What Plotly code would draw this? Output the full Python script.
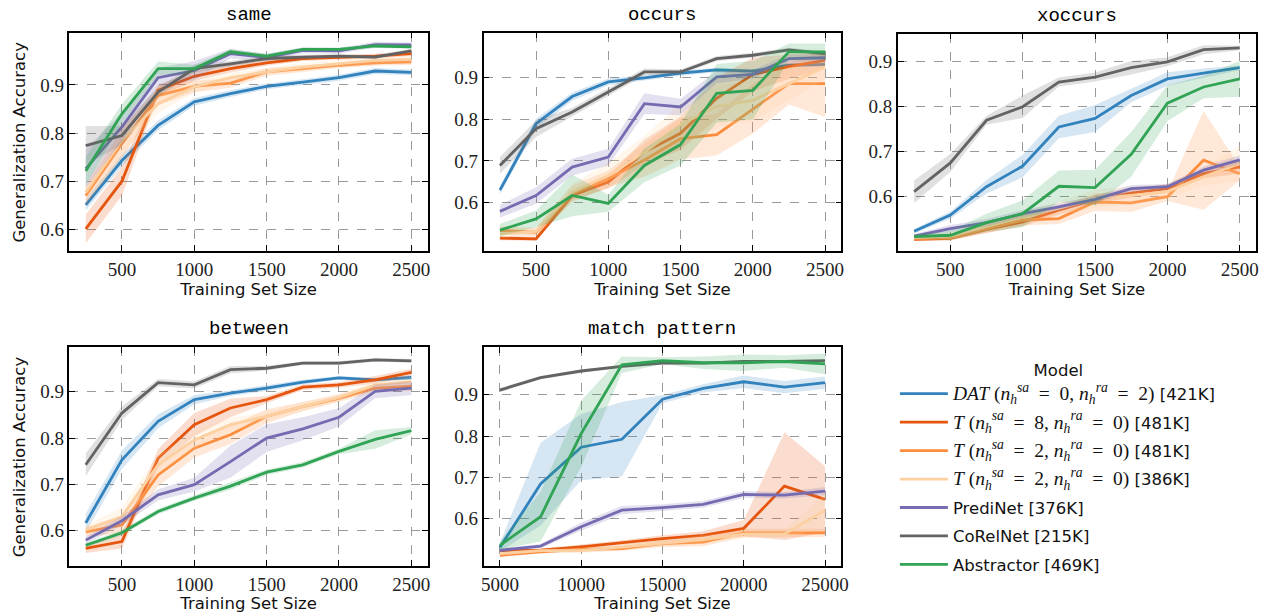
import plotly.graph_objects as go
from plotly.subplots import make_subplots

# ---------------- data ----------------
MODELS = [
    "DAT", "T8_481K", "T2_481K", "T2_386K", "PrediNet", "CoRelNet", "Abstractor",
]
_S = "<span style=\"font-family:'Liberation Serif';font-size:19.5px\">"
LABELS = [
    _S + "<i>DAT</i> (<i>n</i><sub><i>h</i></sub><sup><i>sa</i></sup>  =  0, <i>n</i><sub><i>h</i></sub><sup><i>ra</i></sup>  =  2)</span> [421K]",
    _S + "<i>T</i> (<i>n</i><sub><i>h</i></sub><sup><i>sa</i></sup>  =  8, <i>n</i><sub><i>h</i></sub><sup><i>ra</i></sup>  =  0)</span> [481K]",
    _S + "<i>T</i> (<i>n</i><sub><i>h</i></sub><sup><i>sa</i></sup>  =  2, <i>n</i><sub><i>h</i></sub><sup><i>ra</i></sup>  =  0)</span> [481K]",
    _S + "<i>T</i> (<i>n</i><sub><i>h</i></sub><sup><i>sa</i></sup>  =  2, <i>n</i><sub><i>h</i></sub><sup><i>ra</i></sup>  =  0)</span> [386K]",
    "PrediNet [376K]",
    "CoRelNet [215K]",
    "Abstractor [469K]",
]
COLORS = ["#3182bd", "#e6550d", "#fd8d3c", "#fdd0a2", "#756bb1", "#636363", "#31a354"]

TASKS = ["same", "occurs", "xoccurs", "between", "match pattern"]
X_TITLE = "Training Set Size"
Y_TITLE = "Generalization Accuracy"

X_SMALL = [250, 500, 750, 1000, 1250, 1500, 1750, 2000, 2250, 2500]
X_MATCH = [5000, 7500, 10000, 12500, 15000, 17500, 20000, 22500, 25000]
XTICKS_SMALL = [500, 1000, 1500, 2000, 2500]
XTICKS_MATCH = [5000, 10000, 15000, 20000, 25000]
YTICKS = [0.6, 0.7, 0.8, 0.9]

# means (order: DAT, T8, T2-481K, T2-386K, PrediNet, CoRelNet, Abstractor)
same_mean = [
    [0.651, 0.743, 0.816, 0.865, 0.882, 0.897, 0.906, 0.915, 0.929, 0.926],
    [0.601, 0.700, 0.889, 0.918, 0.934, 0.946, 0.955, 0.957, 0.960, 0.965],
    [0.670, 0.778, 0.878, 0.897, 0.904, 0.927, 0.934, 0.941, 0.946, 0.948],
    [0.677, 0.785, 0.861, 0.896, 0.915, 0.927, 0.937, 0.944, 0.951, 0.953],
    [0.726, 0.813, 0.915, 0.930, 0.965, 0.957, 0.972, 0.971, 0.984, 0.983],
    [0.774, 0.795, 0.885, 0.934, 0.944, 0.955, 0.958, 0.960, 0.958, 0.971],
    [0.721, 0.840, 0.934, 0.934, 0.969, 0.960, 0.974, 0.974, 0.981, 0.979],
]
same_err = [
    [0.012, 0.012, 0.010, 0.008, 0.007, 0.006, 0.006, 0.006, 0.006, 0.006],
    [0.030, 0.030, 0.012, 0.010, 0.008, 0.006, 0.005, 0.005, 0.005, 0.005],
    [0.020, 0.030, 0.020, 0.012, 0.010, 0.008, 0.007, 0.006, 0.006, 0.006],
    [0.020, 0.030, 0.020, 0.012, 0.010, 0.008, 0.008, 0.008, 0.008, 0.008],
    [0.040, 0.030, 0.020, 0.020, 0.010, 0.008, 0.006, 0.006, 0.006, 0.005],
    [0.040, 0.020, 0.010, 0.008, 0.006, 0.005, 0.005, 0.004, 0.004, 0.004],
    [0.030, 0.020, 0.015, 0.008, 0.005, 0.005, 0.004, 0.004, 0.004, 0.004],
]

occurs_mean = [
    [0.630, 0.789, 0.854, 0.889, 0.899, 0.910, 0.918, 0.915, 0.929, 0.931],
    [0.515, 0.513, 0.617, 0.649, 0.721, 0.766, 0.850, 0.907, 0.926, 0.941],
    [0.533, 0.529, 0.621, 0.657, 0.702, 0.753, 0.763, 0.825, 0.885, 0.885],
    [0.525, 0.531, 0.625, 0.665, 0.720, 0.787, 0.830, 0.845, 0.885, 0.925],
    [0.579, 0.617, 0.685, 0.709, 0.837, 0.829, 0.901, 0.907, 0.945, 0.947],
    [0.689, 0.777, 0.817, 0.865, 0.913, 0.913, 0.945, 0.953, 0.966, 0.957],
    [0.534, 0.561, 0.617, 0.598, 0.689, 0.739, 0.862, 0.869, 0.961, 0.961],
]
occurs_err = [
    [0.010, 0.012, 0.010, 0.008, 0.006, 0.006, 0.005, 0.005, 0.005, 0.005],
    [0.005, 0.005, 0.010, 0.015, 0.030, 0.040, 0.050, 0.040, 0.030, 0.020],
    [0.010, 0.010, 0.020, 0.020, 0.040, 0.050, 0.050, 0.060, 0.050, 0.080],
    [0.010, 0.010, 0.020, 0.030, 0.040, 0.050, 0.050, 0.050, 0.040, 0.030],
    [0.015, 0.020, 0.020, 0.020, 0.025, 0.020, 0.015, 0.010, 0.010, 0.010],
    [0.020, 0.020, 0.010, 0.010, 0.008, 0.006, 0.006, 0.006, 0.005, 0.005],
    [0.015, 0.020, 0.050, 0.020, 0.040, 0.050, 0.070, 0.070, 0.020, 0.020],
]

xoccurs_mean = [
    [0.522, 0.558, 0.621, 0.667, 0.754, 0.773, 0.824, 0.861, 0.874, 0.886],
    [0.504, 0.506, 0.526, 0.543, 0.569, 0.593, 0.607, 0.617, 0.650, 0.665],
    [0.506, 0.508, 0.528, 0.547, 0.550, 0.587, 0.585, 0.599, 0.680, 0.650],
    [0.508, 0.511, 0.533, 0.554, 0.573, 0.595, 0.602, 0.610, 0.643, 0.673],
    [0.511, 0.528, 0.541, 0.561, 0.576, 0.593, 0.617, 0.621, 0.658, 0.681],
    [0.610, 0.674, 0.769, 0.799, 0.854, 0.865, 0.886, 0.899, 0.926, 0.930],
    [0.510, 0.513, 0.541, 0.561, 0.622, 0.619, 0.693, 0.807, 0.843, 0.861],
]
xoccurs_err = [
    [0.005, 0.008, 0.015, 0.025, 0.025, 0.030, 0.015, 0.015, 0.010, 0.005],
    [0.004, 0.005, 0.008, 0.010, 0.010, 0.010, 0.010, 0.010, 0.010, 0.015],
    [0.005, 0.005, 0.010, 0.012, 0.012, 0.020, 0.020, 0.010, 0.110, 0.015],
    [0.005, 0.008, 0.010, 0.012, 0.015, 0.020, 0.020, 0.015, 0.020, 0.040],
    [0.005, 0.008, 0.008, 0.008, 0.008, 0.008, 0.008, 0.006, 0.008, 0.010],
    [0.025, 0.020, 0.010, 0.025, 0.010, 0.010, 0.015, 0.010, 0.010, 0.005],
    [0.005, 0.010, 0.020, 0.030, 0.035, 0.040, 0.050, 0.040, 0.025, 0.040],
]

between_mean = [
    [0.616, 0.753, 0.836, 0.883, 0.897, 0.908, 0.921, 0.930, 0.926, 0.931],
    [0.561, 0.576, 0.756, 0.829, 0.865, 0.883, 0.910, 0.915, 0.926, 0.942],
    [0.597, 0.612, 0.720, 0.778, 0.807, 0.847, 0.868, 0.886, 0.908, 0.912],
    [0.601, 0.630, 0.742, 0.796, 0.829, 0.847, 0.868, 0.888, 0.915, 0.922],
    [0.579, 0.621, 0.677, 0.699, 0.749, 0.800, 0.820, 0.845, 0.901, 0.908],
    [0.742, 0.854, 0.920, 0.915, 0.948, 0.951, 0.962, 0.962, 0.969, 0.967],
    [0.568, 0.595, 0.641, 0.670, 0.696, 0.726, 0.742, 0.771, 0.797, 0.816],
]
between_err = [
    [0.020, 0.020, 0.015, 0.010, 0.006, 0.006, 0.005, 0.004, 0.004, 0.005],
    [0.010, 0.015, 0.020, 0.025, 0.020, 0.008, 0.006, 0.006, 0.008, 0.008],
    [0.010, 0.020, 0.025, 0.020, 0.020, 0.015, 0.010, 0.008, 0.008, 0.010],
    [0.010, 0.020, 0.020, 0.020, 0.015, 0.010, 0.010, 0.008, 0.008, 0.010],
    [0.008, 0.010, 0.012, 0.015, 0.035, 0.030, 0.025, 0.020, 0.015, 0.015],
    [0.025, 0.015, 0.008, 0.008, 0.008, 0.005, 0.004, 0.004, 0.004, 0.004],
    [0.005, 0.006, 0.006, 0.006, 0.008, 0.006, 0.006, 0.006, 0.020, 0.008],
]

match_mean = [
    [0.531, 0.684, 0.773, 0.792, 0.889, 0.915, 0.931, 0.918, 0.929],
    [0.523, 0.524, 0.532, 0.542, 0.552, 0.560, 0.577, 0.679, 0.647],
    [0.512, 0.520, 0.526, 0.528, 0.540, 0.544, 0.566, 0.566, 0.566],
    [0.516, 0.523, 0.523, 0.532, 0.540, 0.550, 0.563, 0.563, 0.621],
    [0.524, 0.534, 0.581, 0.621, 0.627, 0.635, 0.659, 0.657, 0.667],
    [0.911, 0.941, 0.957, 0.968, 0.976, 0.976, 0.980, 0.980, 0.982],
    [0.536, 0.605, 0.806, 0.972, 0.982, 0.977, 0.977, 0.980, 0.974],
]
match_err = [
    [0.010, 0.100, 0.080, 0.090, 0.010, 0.010, 0.015, 0.015, 0.015],
    [0.004, 0.004, 0.006, 0.006, 0.008, 0.010, 0.020, 0.130, 0.080],
    [0.004, 0.004, 0.006, 0.006, 0.008, 0.010, 0.010, 0.010, 0.010],
    [0.004, 0.004, 0.006, 0.006, 0.008, 0.010, 0.010, 0.010, 0.040],
    [0.005, 0.005, 0.010, 0.010, 0.008, 0.008, 0.008, 0.008, 0.010],
    [0.005, 0.004, 0.004, 0.003, 0.003, 0.003, 0.003, 0.003, 0.003],
    [0.010, 0.060, 0.080, 0.020, 0.008, 0.015, 0.020, 0.015, 0.025],
]

PANELS = [
    (X_SMALL, same_mean, same_err),
    (X_SMALL, occurs_mean, occurs_err),
    (X_SMALL, xoccurs_mean, xoccurs_err),
    (X_SMALL, between_mean, between_err),
    (X_MATCH, match_mean, match_err),
]
Y_RANGES = [(0.555, 1.009), (0.484, 1.0075), (0.478, 0.962), (0.523, 0.997), (0.486, 1.015)]

# ---------------- layout geometry (pixels) ----------------
W, H = 1266, 613
BOXES = [  # x0, x1, ytop, ybottom
    (67, 428, 32.5, 251),
    (484.5, 845, 32.5, 251),
    (902, 1263, 33.5, 251),
    (67, 428, 347, 566),
    (484.5, 845, 347, 566),
]


def rgba(hexc, a):
    h = hexc.lstrip("#")
    r, g, b = int(h[0:2], 16), int(h[2:4], 16), int(h[4:6], 16)
    return f"rgba({r},{g},{b},{a})"


fig = make_subplots(rows=2, cols=3)
cells = [(1, 1), (1, 2), (1, 3), (2, 1), (2, 2)]

for p, ((xs, means, errs), (r, c)) in enumerate(zip(PANELS, cells)):
    for m in range(len(MODELS)):
        mu = means[m]
        e = errs[m]
        up = [a + b for a, b in zip(mu, e)]
        lo = [a - b for a, b in zip(mu, e)]
        fig.add_trace(go.Scatter(
            x=list(xs) + list(xs)[::-1], y=up + lo[::-1],
            fill="toself", fillcolor=rgba(COLORS[m], 0.2),
            line=dict(width=0), mode="lines", hoverinfo="skip",
            showlegend=False, legendgroup=MODELS[m]), row=r, col=c)
        fig.add_trace(go.Scatter(
            x=xs, y=mu, mode="lines",
            line=dict(color=COLORS[m], width=2.8),
            name=LABELS[m], legendgroup=MODELS[m],
            showlegend=(p == 0)), row=r, col=c)

axis_common = dict(
    showline=True, linecolor="black", linewidth=1.5, mirror="ticks",
    ticks="inside", ticklen=6, tickwidth=1.3, tickcolor="black",
    showgrid=True, gridcolor="#9a9a9a", gridwidth=1, griddash="dash",
    zeroline=False,
    tickfont=dict(family="Liberation Serif", size=19, color="#222"),
)
label_font = dict(family="DejaVu Sans", size=16.5, color="#111")

for p, (r, c) in enumerate(cells):
    x0, x1, yt, yb = BOXES[p]
    xs = PANELS[p][0]
    if xs is X_MATCH:
        xr = [4000, 26000]
        xt = XTICKS_MATCH
    else:
        xr = [137.5, 2612.5]
        xt = XTICKS_SMALL
    fig.update_xaxes(axis_common, row=r, col=c,
                     domain=[x0 / W, x1 / W], range=xr, tickvals=xt,
                     ticktext=[str(v) for v in xt],
                     title=dict(text=X_TITLE, standoff=4, font=label_font))
    fig.update_yaxes(axis_common, row=r, col=c,
                     domain=[1 - yb / H, 1 - yt / H], range=list(Y_RANGES[p]),
                     tickvals=YTICKS, ticktext=[f"{v:.1f}" for v in YTICKS])
    if c == 1:
        fig.add_annotation(
            text=Y_TITLE, xref="paper", yref="paper", textangle=-90,
            x=17 / W, y=1 - (yt + yb) / 2 / H, xanchor="center", yanchor="middle",
            showarrow=False, font=label_font)
    fig.add_annotation(
        text=TASKS[p], xref="paper", yref="paper",
        x=(x0 + x1) / 2 / W, y=1 - (yt - 17.5) / H, xanchor="center", yanchor="middle",
        showarrow=False,
        font=dict(family="Liberation Mono", size=19, color="black"))

fig.update_xaxes(visible=False, row=2, col=3)
fig.update_yaxes(visible=False, row=2, col=3)

fig.update_layout(
    width=W, height=H,
    margin=dict(l=0, r=0, t=0, b=0),
    paper_bgcolor="white", plot_bgcolor="white",
    legend=dict(
        title=dict(text="Model", side="top center", font=label_font),
        x=899 / W, y=1 - 355 / H, xanchor="left", yanchor="top",
        font=dict(family="DejaVu Sans", size=16.5, color="#111"),
        bgcolor="rgba(0,0,0,0)", tracegroupgap=4, itemwidth=48,
        traceorder="grouped",
    ),
)

fig.write_html(
    "out.html",
    config={"displayModeBar": False},
    post_script="document.body.style.margin='0';document.body.style.padding='0';",
)
